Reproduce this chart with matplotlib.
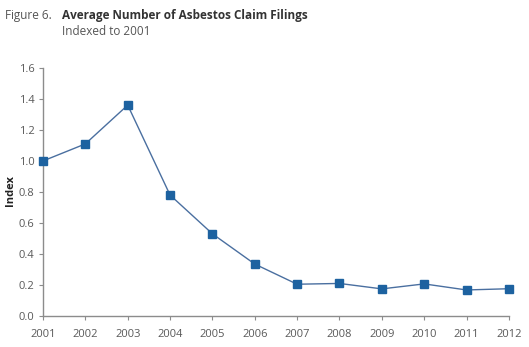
import matplotlib
matplotlib.use("Agg")
import matplotlib.pyplot as plt

years = [2001, 2002, 2003, 2004, 2005, 2006, 2007, 2008, 2009, 2010, 2011, 2012]
index_values = [1.00, 1.11, 1.36, 0.78, 0.53, 0.335, 0.205, 0.21, 0.175, 0.207, 0.168, 0.176]
y_ticks = [0.0, 0.2, 0.4, 0.6, 0.8, 1.0, 1.2, 1.4, 1.6]

plt.rcParams["font.family"] = ["Open Sans", "DejaVu Sans"]

axis_color = "#8c8c8c"
text_color = "#595959"

fig = plt.figure(figsize=(5.29, 3.47), dpi=100)
ax = fig.add_axes([0.0813, 0.0893, 0.8807, 0.715])

ax.plot(years, index_values, color="#4a6fa0", linewidth=1.0,
        marker="s", markersize=5.5, markerfacecolor="#1d62a0",
        markeredgecolor="#1d62a0", clip_on=False, zorder=3)

ax.set_xlim(2001, 2012)
ax.set_ylim(0, 1.6)
ax.set_xticks(years)
ax.set_xticklabels([str(y) for y in years])
ax.set_yticks(y_ticks)
ax.set_yticklabels([f"{v:.1f}" for v in y_ticks])

for side in ("top", "right"):
    ax.spines[side].set_visible(False)
for side in ("left", "bottom"):
    ax.spines[side].set_color(axis_color)
    ax.spines[side].set_linewidth(1.0)

ax.tick_params(axis="both", colors=axis_color, labelcolor=text_color,
               labelsize=8, length=3, width=0.8)
ax.tick_params(axis="x", pad=6)
ax.tick_params(axis="y", pad=3)

# y label sits close to the figure edge, so place it in figure coordinates
fig.text(0.02, 0.452, "Index", fontsize=8, fontweight="bold", color="#222222",
         rotation=90, ha="center", va="center")

fig.text(0.009, 0.955, "Figure 6.", fontsize=8.5, color="#555555", va="center")
fig.text(0.117, 0.955, "Average Number of Asbestos Claim Filings", fontsize=8.5,
         fontweight="bold", color="#333333", va="center")
fig.text(0.117, 0.908, "Indexed to 2001", fontsize=8.5, color="#555555", va="center")

fig.savefig("out.png", dpi=100)
